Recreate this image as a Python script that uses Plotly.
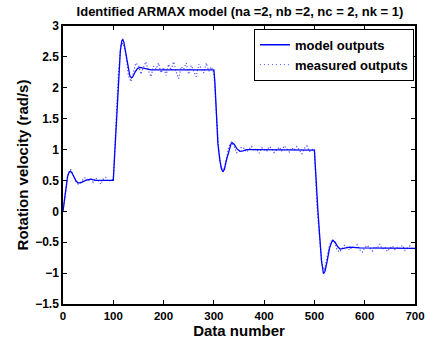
import plotly.graph_objects as go

# Model (ARMAX) simulated output, sampled at the turning points of the response
model_x = [0, 3, 6, 9, 12, 15, 18, 22, 26, 30, 35, 40, 45, 55, 65, 80, 100,
           102, 105, 108, 111, 114, 117, 119, 121, 124, 127, 130, 133, 136, 139,
           143, 148, 153, 158, 165, 175, 200, 250, 300,
           302, 305, 308, 312, 315, 318, 321, 325, 330, 334, 337, 341, 346, 352,
           358, 365, 380, 420, 460, 500,
           502, 504, 507, 511, 514, 518, 521, 525, 530, 534, 537, 541, 546, 551,
           557, 563, 570, 590, 650, 700]
model_y = [0.0, 0.22, 0.42, 0.56, 0.63, 0.65, 0.62, 0.55, 0.49, 0.46, 0.46, 0.48, 0.5, 0.52, 0.5, 0.5, 0.5,
           0.8, 1.3, 1.8, 2.25, 2.6, 2.76, 2.78, 2.74, 2.6, 2.42, 2.28, 2.19, 2.16, 2.18,
           2.25, 2.31, 2.33, 2.32, 2.3, 2.29, 2.29, 2.29, 2.29,
           2.1, 1.5, 1.1, 0.82, 0.69, 0.64, 0.68, 0.83, 1.0, 1.09, 1.11, 1.08, 1.01, 0.97,
           0.98, 1.0, 1.0, 1.0, 1.0, 0.99,
           0.7, 0.35, 0.0, -0.46, -0.8, -1.01, -0.97, -0.82, -0.6, -0.5, -0.47, -0.5, -0.57, -0.61,
           -0.6, -0.58, -0.58, -0.59, -0.59, -0.6]

# Measured rotation velocity, every 5th sample
meas_x = list(range(0, 701, 5))
meas_y = [0.02, 0.35, 0.6, 0.68, 0.58, 0.5, 0.44, 0.47, 0.52, 0.55,
          0.49, 0.53, 0.47, 0.54, 0.5, 0.44, 0.52, 0.55, 0.48, 0.51,
          0.52, 1.35, 2.2, 2.7, 2.72, 2.55, 2.2, 2.1, 2.25, 2.4,
          2.36, 2.22, 2.33, 2.42, 2.27, 2.18, 2.35, 2.3, 2.4, 2.24,
          2.33, 2.2, 2.38, 2.28, 2.42, 2.26, 2.15, 2.34, 2.3, 2.4,
          2.22, 2.36, 2.27, 2.18, 2.38, 2.31, 2.24, 2.4, 2.27, 2.34,
          2.25, 1.6, 0.95, 0.7, 0.68, 0.85, 1.05, 1.12, 1.06, 0.95,
          0.98, 1.04, 1.02, 0.96, 1.0, 1.05, 0.98, 1.01, 0.94, 1.03,
          1.0, 0.97, 1.05, 1.02, 0.95, 1.0, 1.04, 0.98, 1.06, 1.01,
          0.96, 1.03, 0.99, 1.05, 0.98, 0.93, 1.02, 1.06, 0.97, 1.0,
          1.01, 0.1, -0.4, -0.85, -0.95, -0.75, -0.55, -0.45, -0.5, -0.62,
          -0.66, -0.6, -0.55, -0.58, -0.63, -0.57, -0.6, -0.54, -0.62, -0.66,
          -0.59, -0.55, -0.6, -0.64, -0.57, -0.6, -0.53, -0.61, -0.58, -0.65,
          -0.6, -0.56, -0.62, -0.58, -0.6, -0.55, -0.63, -0.59, -0.56, -0.61,
          -0.6]

x_ticks = [0, 100, 200, 300, 400, 500, 600, 700]
x_tick_text = ["0", "100", "200", "300", "400", "500", "600", "700"]
y_ticks = [-1.5, -1, -0.5, 0, 0.5, 1, 1.5, 2, 2.5, 3]
y_tick_text = ["\u22121.5", "\u22121", "\u22120.5", "0", "0.5", "1", "1.5", "2", "2.5", "3"]

FONT = "Liberation Sans"
MEAS_COLOR = "rgba(50,50,255,0.85)"


def bold(labels):
    return [f"<b>{s}</b>" for s in labels]


fig = go.Figure()
fig.add_trace(go.Scatter(
    x=meas_x, y=meas_y, mode="lines", name="<b>measured outputs</b>",
    line=dict(color=MEAS_COLOR, width=1.2, dash="1.2px,2px"),
    showlegend=False,
))
fig.add_trace(go.Scatter(
    x=model_x, y=model_y, mode="lines", name="<b>model outputs</b>",
    line=dict(color="#0000ff", width=1.3),
))
# legend entry for the dotted measured series
fig.add_trace(go.Scatter(
    x=[None], y=[None], mode="lines", name="<b>measured outputs</b>",
    line=dict(color=MEAS_COLOR, width=1, dash="1px,3px"),
))

axis_common = dict(
    showline=True, linecolor="black", linewidth=1.5, mirror="ticks",
    ticks="inside", ticklen=4, tickcolor="black", tickwidth=1,
    showgrid=False, zeroline=False, automargin=False,
)

fig.update_layout(
    width=427, height=344,
    margin=dict(l=63, r=12, t=26, b=40),
    paper_bgcolor="white", plot_bgcolor="white",
    title=dict(text="<b>Identified ARMAX model (na =2, nb =2, nc = 2, nk = 1)</b>",
               x=0.562, xanchor="center", y=0.968, yanchor="middle",
               font=dict(family=FONT, size=13, color="black")),
    xaxis=dict(range=[0, 700], tickvals=x_ticks, ticktext=bold(x_tick_text),
               tickfont=dict(family=FONT, size=11.5, color="black"),
               title=dict(text="<b>Data number</b>", standoff=1,
                          font=dict(family=FONT, size=15, color="black")),
               **axis_common),
    yaxis=dict(range=[-1.5, 3], tickvals=y_ticks, ticktext=bold(y_tick_text),
               tickfont=dict(family=FONT, size=12, color="black"),
               title=dict(text="<b>Rotation velocity (rad/s)</b>", standoff=3,
                          font=dict(family=FONT, size=15, color="black")),
               **axis_common),
    legend=dict(x=0.997, xanchor="right", y=0.99, yanchor="top",
                bordercolor="black", borderwidth=1, bgcolor="white",
                font=dict(family=FONT, size=13, color="black"),
                itemwidth=30, tracegroupgap=0, traceorder="normal"),
    showlegend=True,
)

fig.write_html("out.html")
